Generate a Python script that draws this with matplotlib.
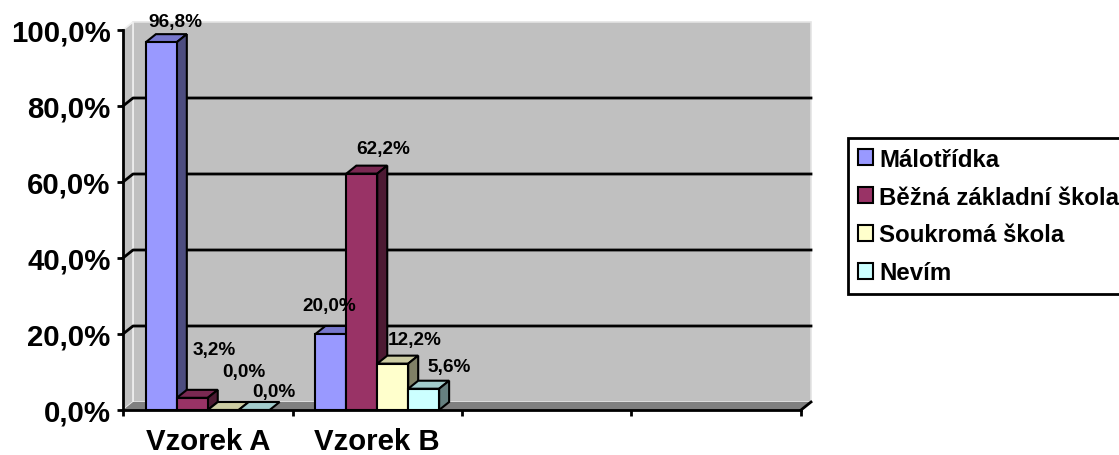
import matplotlib
matplotlib.use("Agg")
import matplotlib.pyplot as plt
from matplotlib.patches import Rectangle, Polygon, Patch

plt.rcParams['font.family'] = ['Liberation Sans', 'DejaVu Sans']

# ---- data ----
categories = ['Vzorek A', 'Vzorek B', '', '']
series_names = ['Málotřídka', 'Běžná základní škola', 'Soukromá škola', 'Nevím']
malotridka = [96.8, 20.0]
bezna = [3.2, 62.2]
soukroma = [0.0, 12.2]
nevim = [0.0, 5.6]
series_values = [malotridka, bezna, soukroma, nevim]
y_ticks = [0, 20, 40, 60, 80, 100]

# ---- style ----
front_cols = ['#9999FF', '#993366', '#FFFFCC', '#CCFFFF']
top_cols = ['#7777CC', '#7A2952', '#CCCCA3', '#A3CCCC']
side_cols = ['#4D4D80', '#4D1A33', '#808066', '#668080']
# label offsets in pixels (relative to bar front-top centre)
label_off = [[(14, 21), (-2, 28)],
             [(22, 48), (21, 25)],
             [(21, 38), (22, 24)],
             [(20, 18), (26, 22)]]

W, H = 1119, 456
fig = plt.figure(figsize=(W / 100, H / 100), dpi=100)
ax = fig.add_axes([123 / W, 45 / H, 678 / W, 380 / H])
ncat = len(categories)
ax.set_xlim(0, ncat)
ax.set_ylim(0, 100)
ax.patch.set_visible(False)

# depth offset (10 px right, 8 px up) in data units
DX = 10 / (678 / ncat)
DY = 8 / (380 / 100)

# back wall, left wall, floor
ax.add_patch(Rectangle((DX, DY), ncat, 100, fc='#C0C0C0', ec='#E4E4E4', lw=1.2,
                       zorder=0, clip_on=False))
ax.add_patch(Polygon([(0, 0), (DX, DY), (DX, 100 + DY), (0, 100)], closed=True,
                     fc='#C0C0C0', ec='#F0F0F0', lw=1.2, zorder=0.5, clip_on=False))
ax.add_patch(Polygon([(0, 0), (ncat, 0), (ncat + DX, DY), (DX, DY)], closed=True,
                     fc='#808080', ec='none', zorder=0.6, clip_on=False))
ax.plot([ncat, ncat + DX], [0, DY], color='black', lw=2, zorder=1, clip_on=False)

for v in y_ticks[1:-1]:
    ax.plot([0, DX, ncat + DX], [v, v + DY, v + DY], color='black', lw=2,
            zorder=1, clip_on=False)

# bars
bw = 0.1825
start = 0.5 - 2 * bw
for j, vals in enumerate(series_values):
    xs = [i + start + j * bw for i in range(len(vals))]
    bars = ax.bar(xs, vals, width=bw, align='edge', color=front_cols[j],
                  edgecolor='black', linewidth=1.5, zorder=4 + 2 * j, clip_on=False)
    for k, r in enumerate(bars.patches):
        x0, w, h = r.get_x(), r.get_width(), r.get_height()
        top = Polygon([(x0, h), (x0 + w, h), (x0 + w + DX, h + DY), (x0 + DX, h + DY)],
                      closed=True, fc=top_cols[j], ec='black', lw=1.5,
                      zorder=3 + 2 * j, clip_on=False)
        ax.add_patch(top)
        if h > 0:
            side = Polygon([(x0 + w, 0), (x0 + w + DX, DY), (x0 + w + DX, h + DY),
                            (x0 + w, h)], closed=True, fc=side_cols[j], ec='black',
                           lw=1.5, zorder=3 + 2 * j, clip_on=False)
            ax.add_patch(side)
        txt = f"{h:.1f}".replace('.', ',') + '%'
        ax.annotate(txt, xy=(x0 + w / 2, h), xytext=label_off[j][k],
                    textcoords='offset pixels', ha='center', va='center',
                    fontsize=13.7, fontweight='bold', zorder=20)

# axes styling
for s in ['top', 'right']:
    ax.spines[s].set_visible(False)
for s in ['left', 'bottom']:
    ax.spines[s].set_linewidth(2)
    ax.spines[s].set_zorder(15)

ax.set_yticks(y_ticks)
ax.set_yticklabels([f"{t:.1f}".replace('.', ',') + '%' for t in y_ticks],
                   fontsize=21.2, fontweight='bold')
ax.tick_params(axis='y', length=4, width=2, pad=5)

ax.set_xticks(range(ncat + 1))
ax.set_xticklabels([])
ax.tick_params(axis='x', which='major', length=4.5, width=2)
ax.set_xticks([i + 0.5 for i in range(ncat)], minor=True)
ax.set_xticklabels(categories, minor=True, fontsize=21.2, fontweight='bold')
ax.tick_params(axis='x', which='minor', length=0, pad=12)

handles = [Patch(fc=c, ec='black', lw=1.5) for c in front_cols]
leg = fig.legend(handles, series_names, loc='upper left',
                 bbox_to_anchor=(848 / W, 1 - 139 / H), frameon=True,
                 fancybox=False, framealpha=1, edgecolor='black', borderaxespad=0,
                 prop={'weight': 'bold', 'size': 17.3}, handlelength=0.65,
                 handleheight=0.65, handletextpad=0.25, labelspacing=0.62,
                 borderpad=0.4)
leg.get_frame().set_linewidth(2)

fig.savefig('out.png', dpi=100)
